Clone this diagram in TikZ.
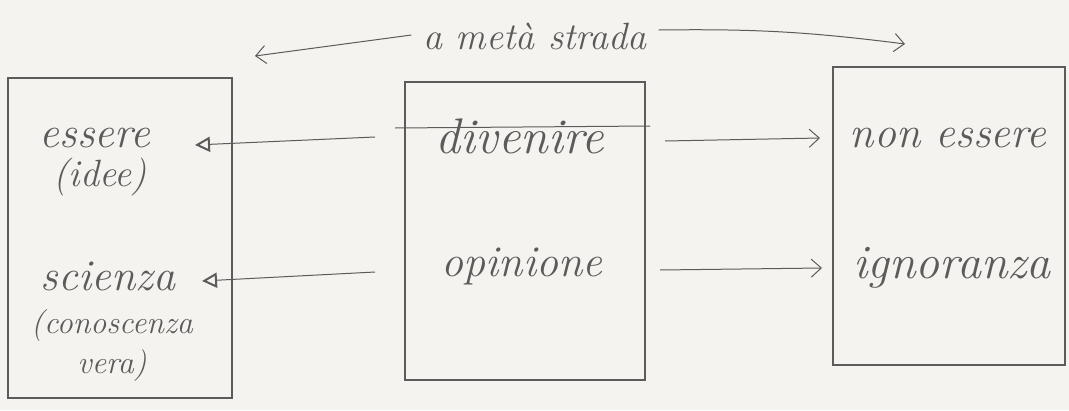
\documentclass[tikz,border=0pt]{standalone}
\usepackage{fontspec}
\usetikzlibrary{arrows.meta}
\definecolor{paper}{HTML}{F4F3EF}
\definecolor{pencil}{HTML}{5C5A5A}
\tikzset{
  word/.style={text=pencil, inner sep=0pt, font=\itshape\fontsize{44}{48}\selectfont},
  small/.style={text=pencil, inner sep=0pt, align=center, font=\itshape\fontsize{32}{40}\selectfont},
  box/.style={draw=pencil, line width=1.1pt, inner sep=0pt},
  tri/.style={draw=pencil, line width=1pt, -{Triangle[open,length=15pt,width=15pt,line width=2pt]}},
  barb/.style={draw=pencil, line width=1pt, -{Straight Barb[length=10pt,width=18pt,line width=1pt]}},
  stroke/.style={draw=pencil, line width=1pt}
}
\begin{document}
\begin{tikzpicture}[x=1pt,y=-1pt]
  \fill[paper] (0,0) rectangle (1069,410);
  \useasboundingbox (0,0) rectangle (1069,410);

  % boxes
  \node[box, minimum width=224pt, minimum height=320pt] (lbox) at (120,238) {};
  \node[box, minimum width=240pt, minimum height=298pt] (mbox) at (525,231) {};
  \node[box, minimum width=232pt, minimum height=298pt] (rbox) at (949,216) {};

  % top label
  \node[text=pencil, inner sep=0pt, font=\itshape\fontsize{38}{40}\selectfont] (meta) at (535,36) {a metà strada};
  \coordinate (tl1) at (393,35);
  \coordinate (tl2) at (255,56);
  \coordinate (tr1) at (737,30);
  \coordinate (tr2) at (905,44);
  \draw[barb] ([xshift=-12pt]meta.west |- tl1) -- (tl2);
  \draw[barb] ([xshift=12pt]meta.east |- tr1) to[bend left=4] (tr2);

  % left column
  \node[word] (essere) at (95,138) {essere};
  \node[small, font=\itshape\fontsize{38}{40}\selectfont] (idee) at (100,177) {(idee)};
  \node[word] (scienza) at (108,276) {scienza};
  \node[small] (conosc) at (112,346) {(conoscenza\\ vera)};

  % middle column
  \node[word, font=\itshape\fontsize{50}{52}\selectfont] (divenire) at (520,136) {divenire};
  \node[word] (opinione) at (522,266) {opinione};

  % right column
  \node[word] (nonessere) at (948,138) {non essere};
  \node[word, font=\itshape\fontsize{48}{50}\selectfont] (ignoranza) at (952,268) {ignoranza};

  % connectors
  \coordinate (a1) at (375,137);
  \coordinate (a2) at (195,145);
  \draw[tri] (a1) -- (a2);
  \coordinate (b1) at (375,272);
  \coordinate (b2) at (202,281);
  \draw[tri] (b1) -- (b2);
  \coordinate (c1) at (665,141);
  \coordinate (c2) at (820,138);
  \draw[barb] (c1) -- (c2);
  \coordinate (d1) at (660,270);
  \coordinate (d2) at (822,268);
  \draw[barb] (d1) -- (d2);

  % stroke across "divenire"
  \coordinate (s1) at (395,128);
  \coordinate (s2) at (650,126);
  \draw[stroke] (s1) -- (s2);
\end{tikzpicture}
\end{document}
